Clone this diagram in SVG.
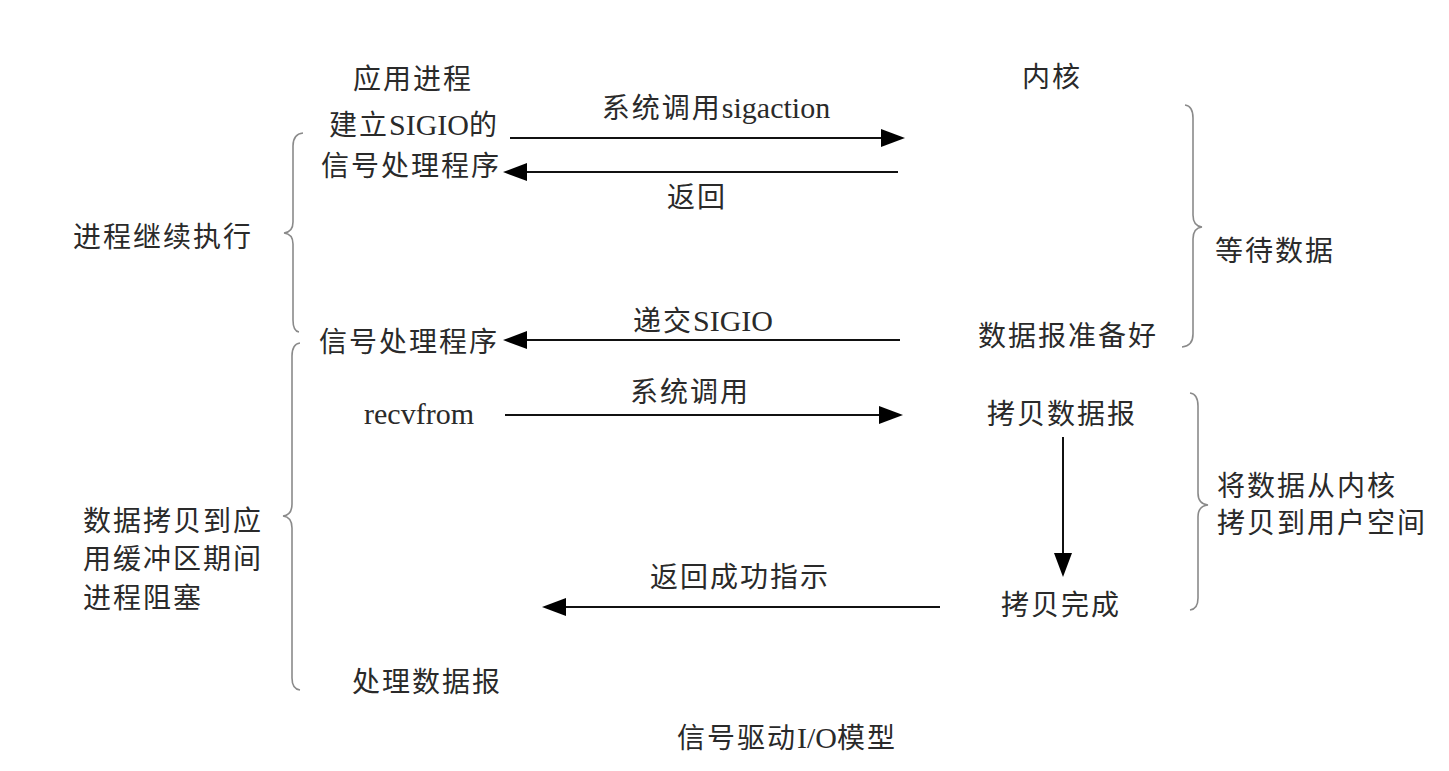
<svg xmlns="http://www.w3.org/2000/svg" width="1449" height="771" viewBox="0 0 1449 771">
<style>
text{font-family:"Liberation Serif","Noto Sans CJK SC",serif;font-size:28px;fill:#2a2a2a;letter-spacing:2px}
.m{text-anchor:middle}
.l{font-size:30px;letter-spacing:0}
.arrow{stroke:#111;stroke-width:2;fill:none;marker-end:url(#ah)}
.brace{stroke:#8a8a8a;stroke-width:1.6;fill:none}
</style>
<defs>
<marker id="ah" markerUnits="userSpaceOnUse" markerWidth="24" markerHeight="18" refX="21" refY="9" orient="auto">
<path d="M0,0 L24,9 L0,18 z" fill="#000"/>
</marker>
</defs>
<rect width="1449" height="771" fill="#fff"/>

<g id="connectors">
<line class="arrow" x1="510" y1="138" x2="902" y2="138"/>
<line class="arrow" x1="898" y1="172" x2="506" y2="172"/>
<line class="arrow" x1="900" y1="340" x2="506" y2="340"/>
<line class="arrow" x1="505" y1="415" x2="900" y2="415"/>
<line class="arrow" x1="1063" y1="437" x2="1063" y2="574"/>
<line class="arrow" x1="940" y1="607" x2="545" y2="607"/>
</g>

<g id="braces">
<path class="brace" d="M303,133 Q293,134 293,146 L293,222 Q293,232 284,233 Q293,234 293,244 L293,320 Q293,331 299,332"/>
<path class="brace" d="M300,343 Q292,344 292,356 L292,504 Q292,515 283,516 Q292,517 292,528 L292,678 Q292,689 300,690"/>
<path class="brace" d="M1185,105 Q1193,106 1193,118 L1193,215 Q1193,226 1202,227 Q1193,228 1193,239 L1193,334 Q1193,346 1182,347"/>
<path class="brace" d="M1190,393 Q1198,394 1198,406 L1198,493 Q1198,504 1208,505 Q1198,506 1198,517 L1198,598 Q1198,609 1190,610"/>
</g>

<g id="app-title"><text class="m" x="413" y="89">应用进程</text></g>
<g id="kernel-title"><text class="m" x="1052" y="87">内核</text></g>
<g id="setup-handler"><text class="m" x="414" y="135">建立<tspan class="l">SIGIO</tspan>的</text><text class="m" x="411" y="176">信号处理程序</text></g>
<g id="lbl-sigaction"><text class="m" x="716" y="118">系统调用<tspan class="l">sigaction</tspan></text></g>
<g id="lbl-return"><text class="m" x="697" y="207">返回</text></g>
<g id="proc-continue"><text class="m" x="163" y="247">进程继续执行</text></g>
<g id="wait-data"><text class="m" x="1275" y="261">等待数据</text></g>
<g id="lbl-deliver"><text class="m" x="703" y="331">递交<tspan class="l">SIGIO</tspan></text></g>
<g id="data-ready"><text class="m" x="1068" y="346">数据报准备好</text></g>
<g id="handler"><text class="m" x="409" y="352">信号处理程序</text></g>
<g id="lbl-syscall"><text class="m" x="690" y="402">系统调用</text></g>
<g id="recvfrom"><text class="m l" x="419" y="424">recvfrom</text></g>
<g id="copy-data"><text class="m" x="1062" y="424">拷贝数据报</text></g>
<g id="copy-kernel-user"><text class="m" x="1307" y="496">将数据从内核</text><text class="m" x="1322" y="533">拷贝到用户空间</text></g>
<g id="proc-blocked"><text x="83" y="531">数据拷贝到应</text><text x="83" y="569">用缓冲区期间</text><text x="83" y="608">进程阻塞</text></g>
<g id="lbl-success"><text class="m" x="740" y="587">返回成功指示</text></g>
<g id="copy-done"><text class="m" x="1061" y="615">拷贝完成</text></g>
<g id="process-data"><text class="m" x="427" y="692">处理数据报</text></g>
<g id="caption"><text class="m" x="787" y="748">信号驱动<tspan class="l">I/O</tspan>模型</text></g>
</svg>
